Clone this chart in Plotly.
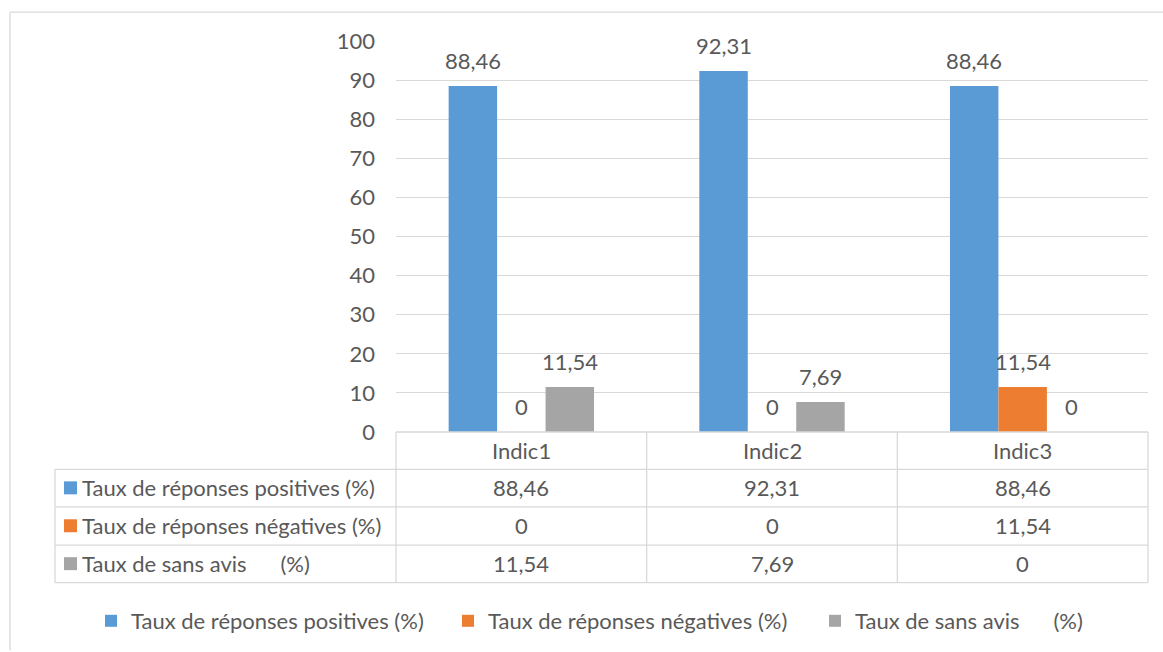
import plotly.graph_objects as go

categories = ["Indic1", "Indic2", "Indic3"]
series_names = ["Taux de réponses positives (%)",
                "Taux de réponses négatives (%)",
                "Taux de sans avis\u00a0\u00a0\u00a0\u00a0\u00a0\u00a0(%)"]
positives = [88.46, 92.31, 88.46]
negatives = [0, 0, 11.54]
sans_avis = [11.54, 7.69, 0]
y_ticks = [0, 10, 20, 30, 40, 50, 60, 70, 80, 90, 100]

series_values = [positives, negatives, sans_avis]
colors = ["#5B9BD5", "#ED7D31", "#A5A5A5"]

W, H = 1163, 652
L, R, T, B = 396, 1148, 41, 433
FONT = "Lato"
TXT = "#595959"
GRID = "#D9D9D9"
FS = 22
BARGAP = 0.42


def fmt(v):
    return f"{v:g}".replace(".", ",")


def px_x(px):
    return (px - L) / (R - L)


def px_y(py):
    return (B - py) / (B - T)


legend_ids = ["legend", "legend2", "legend3"]
legend_left_px = [91, 448, 815]

fig = go.Figure()
for name, vals, col, lid in zip(series_names, series_values, colors, legend_ids):
    fig.add_trace(go.Bar(
        x=categories, y=vals, name=name, legend=lid, showlegend=True,
        marker=dict(color=col, line=dict(width=0)),
        hoverinfo="x+y+name",
    ))

shapes = []
annotations = []
line = dict(color=GRID, width=1.3)

# data labels above bars, positioned from the grouped-bar geometry
n_series = len(series_values)
bar_w = (1 - BARGAP) / n_series
for si, vals in enumerate(series_values):
    off = (si - (n_series - 1) / 2) * bar_w
    for ci, v in enumerate(vals):
        annotations.append(dict(x=ci + off, y=v, xref="x", yref="y", text=fmt(v),
                                showarrow=False, yanchor="bottom", yshift=10,
                                font=dict(family=FONT, size=FS, color=TXT)))

# outer chart border
shapes.append(dict(type="line", xref="paper", yref="paper",
                   x0=px_x(10), x1=px_x(1163), y0=px_y(12), y1=px_y(12), line=line))
shapes.append(dict(type="line", xref="paper", yref="paper",
                   x0=px_x(10), x1=px_x(10), y0=px_y(12), y1=px_y(652), line=line))
# table horizontals
shapes.append(dict(type="line", xref="paper", yref="paper",
                   x0=0, x1=1, y0=0, y1=0, line=line))
row_lines = [470.5, 508, 546.5, 584]
for ry in row_lines:
    shapes.append(dict(type="line", xref="paper", yref="paper",
                       x0=px_x(55), x1=1, y0=px_y(ry), y1=px_y(ry), line=line))
# table verticals
shapes.append(dict(type="line", xref="paper", yref="paper",
                   x0=px_x(55), x1=px_x(55), y0=px_y(470.5), y1=px_y(584), line=line))
for i in range(len(categories) + 1):
    xv = i / len(categories)
    shapes.append(dict(type="line", xref="paper", yref="paper",
                       x0=xv, x1=xv, y0=0, y1=px_y(584), line=line))

header_y = px_y(452)
row_centers = [489, 527, 565]
for c in categories:
    annotations.append(dict(x=c, y=header_y, xref="x", yref="paper", text=c,
                            showarrow=False, yanchor="middle",
                            font=dict(family=FONT, size=FS, color=TXT)))
for name, vals, col, ry in zip(series_names, series_values, colors, row_centers):
    for c, v in zip(categories, vals):
        annotations.append(dict(x=c, y=px_y(ry), xref="x", yref="paper", text=fmt(v),
                                showarrow=False, yanchor="middle",
                                font=dict(family=FONT, size=FS, color=TXT)))
    annotations.append(dict(x=px_x(80), y=px_y(ry), xref="paper", yref="paper", text=name,
                            xanchor="left", yanchor="middle", showarrow=False,
                            font=dict(family=FONT, size=FS, color=TXT)))
    shapes.append(dict(type="rect", xref="paper", yref="paper",
                       x0=px_x(64), x1=px_x(77), y0=px_y(ry - 6.5), y1=px_y(ry + 6.5),
                       fillcolor=col, line=dict(width=0)))

legend_layouts = {}
for lid, lx in zip(legend_ids, legend_left_px):
    legend_layouts[lid] = dict(orientation="h", xref="paper", yref="paper",
                               x=px_x(lx), y=px_y(621), xanchor="left", yanchor="middle",
                               font=dict(family=FONT, size=FS, color=TXT), itemwidth=30,
                               bgcolor="rgba(0,0,0,0)")

fig.update_layout(
    width=W, height=H,
    margin=dict(l=L, r=W - R, t=T, b=H - B),
    paper_bgcolor="white", plot_bgcolor="white",
    barmode="group", bargap=BARGAP, bargroupgap=0,
    showlegend=True,
    font=dict(family=FONT, size=FS, color=TXT),
    xaxis=dict(showticklabels=False, showgrid=False, zeroline=False,
               range=[-0.5, 2.5], fixedrange=True),
    yaxis=dict(range=[0, 100], tickvals=y_ticks, showgrid=True, gridcolor=GRID,
               gridwidth=1.3, zeroline=False, ticks="", ticklabelstandoff=20,
               tickfont=dict(family=FONT, size=FS, color=TXT)),
    shapes=shapes, annotations=annotations,
    **legend_layouts,
)

fig.write_html("out.html")
